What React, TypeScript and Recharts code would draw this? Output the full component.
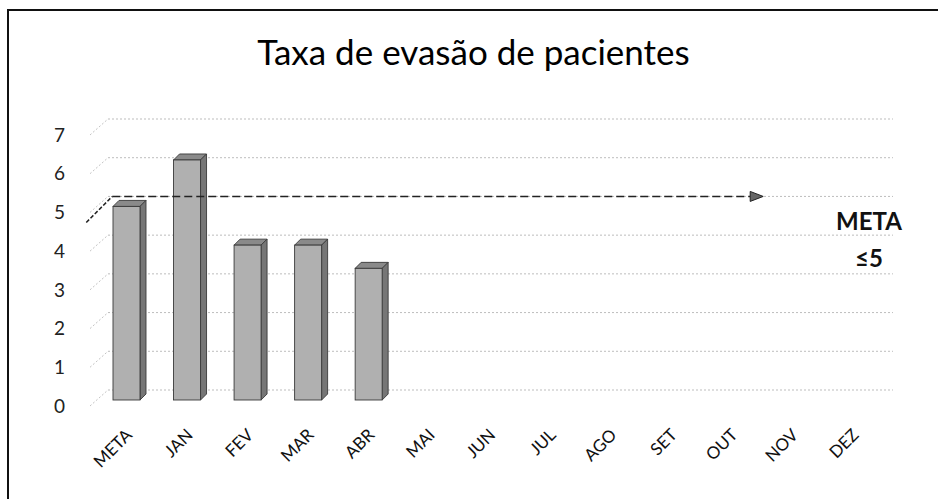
import React from 'react'
import {
  BarChart, Bar, XAxis, YAxis, CartesianGrid, ReferenceLine,
} from 'recharts'

// Dados
const meses = ['META', 'JAN', 'FEV', 'MAR', 'ABR', 'MAI', 'JUN', 'JUL', 'AGO', 'SET', 'OUT', 'NOV', 'DEZ']
const taxa: (number | null)[] = [5, 6.2, 4, 4, 3.4, null, null, null, null, null, null, null, null]
const yTicks = [0, 1, 2, 3, 4, 5, 6, 7]
const metaValor = 5

const data = meses.map((m, i) => ({ mes: m, taxa: taxa[i] }))

const FONT = 'Lato, "Open Sans", sans-serif'

// profundidade "3D" da parede do fundo e das barras
const WALL_DY = -16
const BAR_D = 6
const BAR_LIFT = 6

const Bar3D = (props: any) => {
  const { x, y, width, height, value } = props
  if (value == null || !height) return null
  const top = y - BAR_LIFT
  const bottom = y + height - BAR_LIFT
  const r = x + width
  return (
    <g stroke="#3a3a3a" strokeWidth={0.9}>
      <polygon
        points={`${x},${top} ${x + BAR_D},${top - BAR_D} ${r + BAR_D},${top - BAR_D} ${r},${top}`}
        fill="#8a8a8a"
      />
      <polygon
        points={`${r},${top} ${r + BAR_D},${top - BAR_D} ${r + BAR_D},${bottom - BAR_D} ${r},${bottom}`}
        fill="#767676"
      />
      <rect x={x} y={top} width={width} height={bottom - top} fill="#b0b0b0" />
    </g>
  )
}

const GridLine3D = (props: any) => {
  const { x1, x2, y1 } = props
  const gy = y1 + WALL_DY
  return (
    <g key={props.key}>
      <line x1={x1 - 6} y1={y1} x2={x1 + 12} y2={gy} stroke="#c4c4c4" strokeWidth={1} strokeDasharray="2 2" />
      <line x1={x1 + 12} y1={gy} x2={x2 + 10} y2={gy} stroke="#bdbdbd" strokeWidth={1} strokeDasharray="2 2" />
    </g>
  )
}

const MetaArrow = (props: any) => {
  const { x1, x2, y1 } = props
  const ly = y1 + WALL_DY
  const tip = x2 - 29
  return (
    <g>
      <line x1={x1 - 40} y1={y1 + 10} x2={x1 - 14} y2={ly} stroke="#222" strokeWidth={1.5} strokeDasharray="4 2" />
      <line x1={x1 - 14} y1={ly} x2={tip - 13} y2={ly} stroke="#222" strokeWidth={1.5} strokeDasharray="8 4" />
      <polygon points={`${tip - 13},${ly - 5} ${tip},${ly} ${tip - 13},${ly + 5}`} fill="#666" stroke="#222" strokeWidth={1} />
    </g>
  )
}

const MesTick = (props: any) => {
  const { x, y, payload } = props
  return (
    <g transform={`translate(${x + 7},${y + 30})`}>
      <text textAnchor="end" transform="rotate(-45)" fontSize={17} fontFamily={FONT} fill="#111">
        {payload.value}
      </text>
    </g>
  )
}

export default function App() {
  return (
    <div style={{ position: 'absolute', left: 0, top: 0, width: 938, height: 499, background: '#fff' }}>
      <div style={{
        position: 'absolute', left: 7, top: 9, right: 0, bottom: 0,
        borderTop: '2px solid #111', borderLeft: '2px solid #111',
      }} />
      <div style={{
        position: 'absolute', left: 0, width: 938, top: 30, textAlign: 'center',
        fontFamily: FONT, fontSize: 35, color: '#000', paddingLeft: 9,
        boxSizing: 'border-box',
      }}>
        Taxa de evasão de pacientes
      </div>
      <div style={{
        position: 'absolute', left: 819, width: 100, top: 202, textAlign: 'center',
        fontFamily: FONT, fontWeight: 700, fontSize: 24, color: '#111', lineHeight: '37px',
      }}>
        META<br />≤5
      </div>
      <div style={{ position: 'absolute', left: 0, top: 0 }}>
        <BarChart
          width={938}
          height={499}
          data={data}
          margin={{ top: 135, right: 55, bottom: 0, left: 36 }}
          barSize={27}
        >
          <CartesianGrid vertical={false} horizontal={GridLine3D} />
          <XAxis
            dataKey="mes"
            height={93}
            axisLine={false}
            tickLine={false}
            tickSize={0}
            tickMargin={0}
            interval={0}
            tick={<MesTick />}
          />
          <YAxis
            width={60}
            domain={[0, 7]}
            ticks={yTicks}
            axisLine={false}
            tickLine={false}
            tickSize={0}
            tickMargin={31}
            tick={{ fontSize: 19, fontFamily: FONT, fill: '#222' }}
          />
          <Bar dataKey="taxa" shape={Bar3D} isAnimationActive={false} />
          <ReferenceLine
            segment={[{ x: 'META', y: metaValor }, { x: 'NOV', y: metaValor }]}
            shape={MetaArrow}
            ifOverflow="visible"
          />
        </BarChart>
      </div>
    </div>
  )
}
